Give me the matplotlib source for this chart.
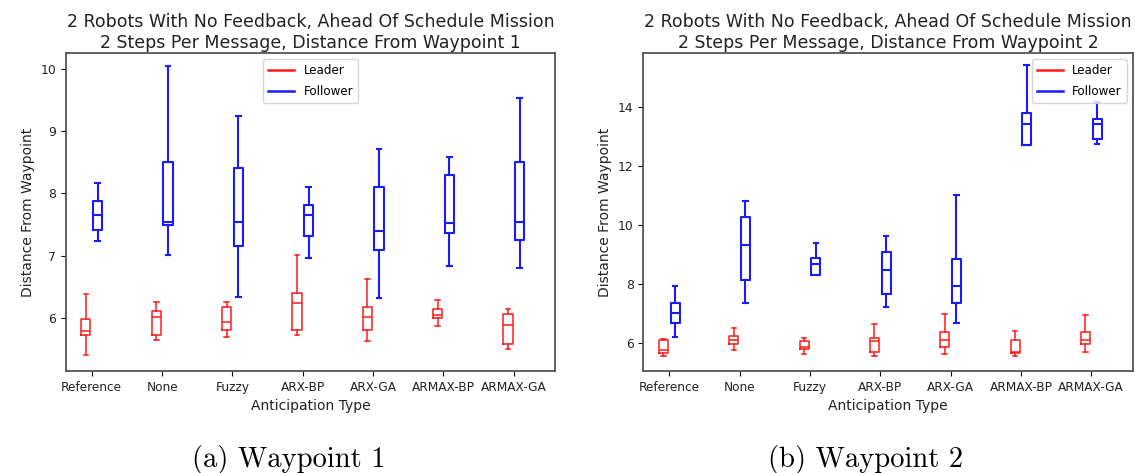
import numpy as np
import matplotlib
matplotlib.use("Agg")
import matplotlib.pyplot as plt
from matplotlib.lines import Line2D

categories = ['Reference', 'None', 'Fuzzy', 'ARX-BP', 'ARX-GA', 'ARMAX-BP', 'ARMAX-GA']

# waypoint 1 box stats: whisker low, q1, median, q3, whisker high
wp1_leader_lo = [5.40, 5.65, 5.70, 5.73, 5.63, 5.87, 5.51]
wp1_leader_q1 = [5.73, 5.73, 5.81, 5.81, 5.81, 6.00, 5.58]
wp1_leader_med = [5.80, 6.01, 5.94, 6.24, 6.01, 6.05, 5.89]
wp1_leader_q3 = [5.98, 6.12, 6.17, 6.40, 6.17, 6.14, 6.07]
wp1_leader_hi = [6.38, 6.26, 6.26, 7.01, 6.62, 6.29, 6.15]

wp1_follower_lo = [7.23, 7.02, 6.34, 6.97, 6.32, 6.83, 6.80]
wp1_follower_q1 = [7.41, 7.49, 7.16, 7.32, 7.09, 7.37, 7.25]
wp1_follower_med = [7.65, 7.55, 7.55, 7.65, 7.39, 7.53, 7.55]
wp1_follower_q3 = [7.88, 8.51, 8.41, 7.81, 8.10, 8.30, 8.51]
wp1_follower_hi = [8.17, 10.05, 9.25, 8.10, 8.71, 8.59, 9.53]

# waypoint 2
wp2_leader_lo = [5.57, 5.76, 5.62, 5.57, 5.62, 5.57, 5.71]
wp2_leader_q1 = [5.66, 5.97, 5.82, 5.70, 5.86, 5.66, 5.97]
wp2_leader_med = [5.76, 6.10, 5.87, 6.06, 6.11, 5.70, 6.12]
wp2_leader_q3 = [6.11, 6.23, 6.06, 6.16, 6.39, 6.10, 6.39]
wp2_leader_hi = [6.15, 6.51, 6.16, 6.65, 7.00, 6.41, 6.95]

wp2_follower_lo = [6.21, 7.35, 8.29, 7.21, 6.70, 12.69, 12.75]
wp2_follower_q1 = [6.70, 8.15, 8.31, 7.65, 7.35, 12.69, 12.90]
wp2_follower_med = [7.01, 9.32, 8.69, 8.49, 7.95, 13.41, 13.41]
wp2_follower_q3 = [7.35, 10.27, 8.88, 9.09, 8.84, 13.79, 13.58]
wp2_follower_hi = [7.94, 10.81, 9.39, 9.63, 11.01, 15.39, 14.15]


def make_stats(lo, q1, med, q3, hi):
    out = []
    for a, b, c, d, e in zip(lo, q1, med, q3, hi):
        out.append({'whislo': a, 'q1': b, 'med': c, 'q3': d, 'whishi': e, 'fliers': []})
    return out


def draw_boxes(ax, stats, pos, color, lw):
    props = dict(color=color, linewidth=lw)
    ax.bxp(stats, positions=pos, widths=0.13, showfliers=False,
           boxprops=props, medianprops=props, whiskerprops=props, capprops=props,
           manage_ticks=False)


plt.rcParams['font.family'] = 'DejaVu Sans'
fig = plt.figure(figsize=(11.35, 4.73), dpi=100)
ax1 = fig.add_axes([0.0579, 0.2156, 0.4314, 0.6717])
ax2 = fig.add_axes([0.5668, 0.2156, 0.4312, 0.6717])

x = np.arange(1, len(categories) + 1)
off = 0.083
red = '#ff1a1a'
blue = '#1a1aff'

draw_boxes(ax1, make_stats(wp1_leader_lo, wp1_leader_q1, wp1_leader_med, wp1_leader_q3, wp1_leader_hi),
           x - off, red, 1.1)
draw_boxes(ax1, make_stats(wp1_follower_lo, wp1_follower_q1, wp1_follower_med, wp1_follower_q3, wp1_follower_hi),
           x + off, blue, 1.5)
draw_boxes(ax2, make_stats(wp2_leader_lo, wp2_leader_q1, wp2_leader_med, wp2_leader_q3, wp2_leader_hi),
           x - off, red, 1.1)
draw_boxes(ax2, make_stats(wp2_follower_lo, wp2_follower_q1, wp2_follower_med, wp2_follower_q3, wp2_follower_hi),
           x + off, blue, 1.5)

titles = ['2 Robots With No Feedback, Ahead Of Schedule Mission\n2 Steps Per Message, Distance From Waypoint 1',
          '2 Robots With No Feedback, Ahead Of Schedule Mission\n2 Steps Per Message, Distance From Waypoint 2']

handles = [Line2D([], [], color=red, lw=1.8), Line2D([], [], color=blue, lw=1.8)]

for ax, t, loc in zip([ax1, ax2], titles, ['upper center', 'upper right']):
    ax.set_xticks(x)
    ax.set_xticklabels(categories, fontsize=8.7, color='#222222')
    ax.tick_params(axis='y', labelsize=8.9, labelcolor='#222222')
    ax.set_xlim(0.63, 7.59)
    ax.set_title(t, fontsize=12.5, color='#222222', pad=4)
    ax.set_xlabel('Anticipation Type', fontsize=10, color='#222222')
    ax.set_ylabel('Distance From Waypoint', fontsize=10, color='#222222')
    for s in ax.spines.values():
        s.set_color('#555555')
        s.set_linewidth(1.3)
    ax.legend(handles, ['Leader', 'Follower'], loc=loc, fontsize=8.6,
              labelspacing=0.7, handlelength=2.2)

ax1.set_ylim(5.15, 10.25)
ax2.set_ylim(5.06, 15.80)
ax2.set_yticks([6, 8, 10, 12, 14])

fig.text(0.2546, 0.0133, '(a) Waypoint 1', ha='center', va='baseline', fontsize=20.6, family='cmr10')
fig.text(0.7630, 0.0133, '(b) Waypoint 2', ha='center', va='baseline', fontsize=20.6, family='cmr10')

fig.savefig('out.png', dpi=100)
